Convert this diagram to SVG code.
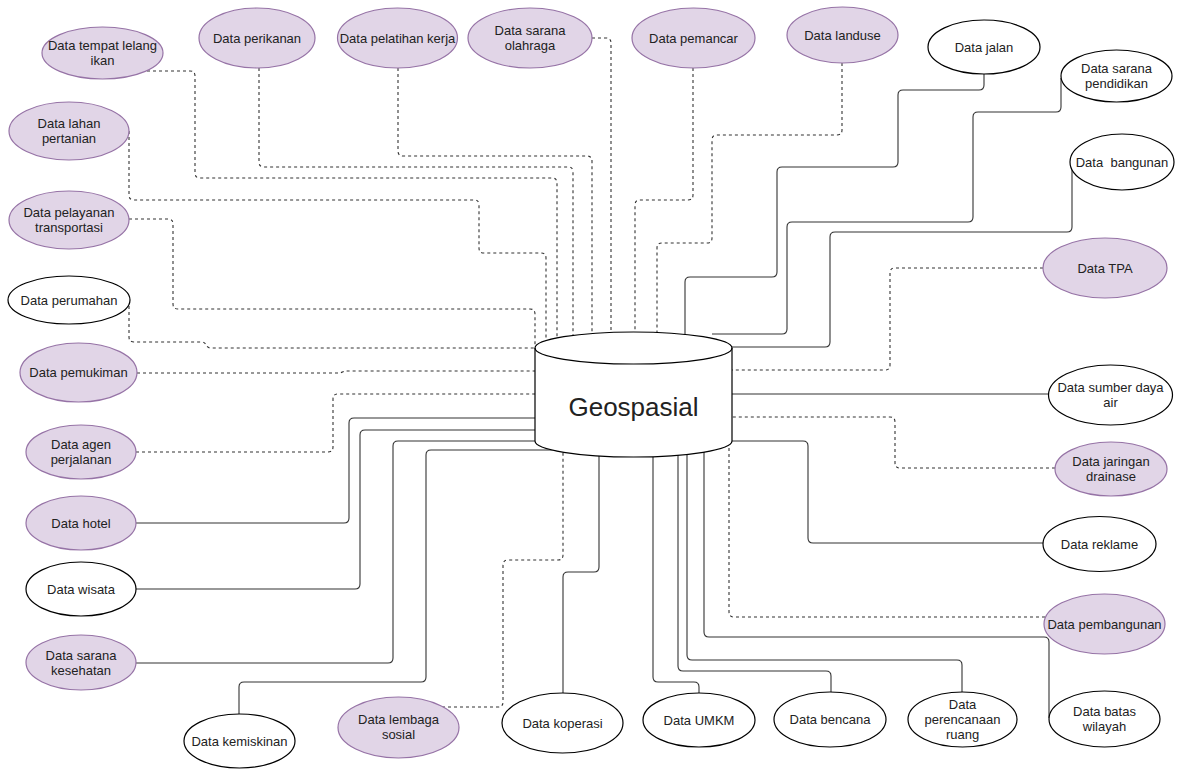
<svg xmlns="http://www.w3.org/2000/svg" width="1180" height="769" viewBox="0 0 1180 769">
<style>
.e{fill:none;stroke:#333;stroke-width:1.1}
.d{stroke-dasharray:3 3}
.p{fill:#e1d5e7;stroke:#9673a6;stroke-width:1.2}
.w{fill:#fff;stroke:#000;stroke-width:1.2}
text{font-family:"Liberation Sans",Arial,sans-serif;font-size:13px;fill:#222;text-anchor:middle;white-space:pre}
.big{font-size:26px}
</style>
<rect width="1180" height="769" fill="#fff"/>
<g id="connectors">
<path class="e d" d="M147,71 L190,71 Q195,71 195,76 L195,173 Q195,178 200,178 L552,178 Q557,178 557,183 L557,345"/>
<path class="e d" d="M259,68 L259,162 Q259,167 264,167 L568,167 Q573,167 573,172 L573,345"/>
<path class="e d" d="M398,68 L398,151 Q398,156 403,156 L587,156 Q592,156 592,161 L592,345"/>
<path class="e d" d="M592,38 L606,38 Q611,38 611,43 L611,345"/>
<path class="e d" d="M693,68 L693,195 Q693,200 688,200 L640,200 Q635,200 635,205 L635,345"/>
<path class="e d" d="M842,63 L842,130 Q842,135 837,135 L717,135 Q712,135 712,140 L712,238 Q712,243 707,243 L662,243 Q657,243 657,248 L657,345"/>
<path class="e d" d="M129,131 L129,195 Q129,200 134,200 L474,200 Q479,200 479,205 L479,248 Q479,253 484,253 L541,253 Q546,253 546,258 L546,345"/>
<path class="e d" d="M129,219 L168,219 Q173,219 173,224 L173,304 Q173,309 178,309 L530,309 Q535,309 535,314 L535,345"/>
<path class="e d" d="M129,300 L129,337 Q129,342 134,342 L202,342 C207,342 205,348 211,348 L545,348"/>
<path class="e d" d="M137,373 L340,373 L345,371 L545,371"/>
<path class="e d" d="M136,452 L328,452 Q333,452 333,447 L333,399 Q333,394 338,394 L545,394"/>
<path class="e" d="M136,523 L344,523 Q349,523 349,518 L349,423 Q349,418 354,418 L545,418"/>
<path class="e" d="M136,589 L355,589 Q360,589 360,584 L360,435 Q360,430 365,430 L545,430"/>
<path class="e" d="M136,663 L388,663 Q393,663 393,658 L393,446 Q393,441 398,441 L545,441"/>
<path class="e" d="M239,714 L239,687 Q239,682 244,682 L421,682 Q426,682 426,677 L426,455 Q426,450 431,450 L565,450"/>
<path class="e d" d="M442,707 L498,707 Q503,707 503,702 L503,565 Q503,560 508,560 L558,560 Q563,560 563,555 L563,445"/>
<path class="e" d="M563,693 L563,577 Q563,572 568,572 L594,572 Q599,572 599,567 L599,445"/>
<path class="e" d="M699,693 L699,687 Q699,682 694,682 L658,682 Q653,682 653,677 L653,445"/>
<path class="e" d="M831,692 L831,676 Q831,671 826,671 L683,671 Q678,671 678,666 L678,445"/>
<path class="e" d="M962,692 L962,665 Q962,660 957,660 L692,660 Q687,660 687,655 L687,445"/>
<path class="e" d="M1049,718 L1049,642 Q1049,637 1044,637 L709,637 Q704,637 704,632 L704,445"/>
<path class="e d" d="M1045,617 L734,617 Q729,617 729,612 L729,445"/>
<path class="e" d="M1043,543 L813,543 Q808,543 808,538 L808,446 Q808,441 803,441 L725,441"/>
<path class="e d" d="M1055,468 L900,468 Q895,468 895,463 L895,422 Q895,417 890,417 L725,417"/>
<path class="e" d="M1048,394 L725,394"/>
<path class="e d" d="M1043,268 L895,268 Q890,268 890,273 L890,365 Q890,370 885,370 L725,370"/>
<path class="e" d="M1072,165 L1072,227 Q1072,232 1067,232 L835,232 Q830,232 830,237 L830,342 Q830,347 825,347 L725,347"/>
<path class="e" d="M1061,78 L1061,107 Q1061,112 1056,112 L978,112 Q973,112 973,117 L973,217 Q973,222 968,222 L792,222 Q787,222 787,227 L787,329 Q787,334 782,334 L712,334"/>
<path class="e" d="M984,73 L984,85 Q984,90 979,90 L903,90 Q898,90 898,95 L898,162 Q898,167 893,167 L782,167 Q777,167 777,172 L777,272 Q777,277 772,277 L690,277 Q685,277 685,282 L685,345"/>
</g>
<g id="geospasial">
<path d="M535,348 A98.5,16 0 0 1 732,348 L732,441 A98.5,16 0 0 1 535,441 Z" fill="#fff" stroke="#000" stroke-width="1.2"/>
<path d="M535,348 A98.5,16 0 0 0 732,348" fill="none" stroke="#000" stroke-width="1.2"/>
<text class="big" x="633.5" y="416">Geospasial</text>
</g>
<g id="n-lelang"><ellipse class="p" cx="102.5" cy="53" rx="60.5" ry="26"/><text x="102.5" y="50">Data tempat lelang</text><text x="102.5" y="65">ikan</text></g>
<g id="n-perikanan"><ellipse class="p" cx="257" cy="38" rx="58" ry="30"/><text x="257" y="42.5">Data perikanan</text></g>
<g id="n-pelatihan"><ellipse class="p" cx="397.5" cy="38" rx="60" ry="30"/><text x="397.5" y="42.5">Data pelatihan kerja</text></g>
<g id="n-olahraga"><ellipse class="p" cx="530" cy="38" rx="62" ry="30"/><text x="530" y="35">Data sarana</text><text x="530" y="50">olahraga</text></g>
<g id="n-pemancar"><ellipse class="p" cx="693.5" cy="38" rx="61.5" ry="30"/><text x="693.5" y="42.5">Data pemancar</text></g>
<g id="n-landuse"><ellipse class="p" cx="842.5" cy="35" rx="55.5" ry="28"/><text x="842.5" y="39.5">Data landuse</text></g>
<g id="n-jalan"><ellipse class="w" cx="984" cy="47" rx="56" ry="27"/><text x="984" y="51.5">Data jalan</text></g>
<g id="n-pendidikan"><ellipse class="w" cx="1116.5" cy="76" rx="55.5" ry="26"/><text x="1116.5" y="73">Data sarana</text><text x="1116.5" y="88">pendidikan</text></g>
<g id="n-bangunan"><ellipse class="w" cx="1122" cy="162" rx="52" ry="28"/><text x="1122" y="166.5">Data  bangunan</text></g>
<g id="n-tpa"><ellipse class="p" cx="1105" cy="268" rx="62" ry="30"/><text x="1105" y="272.5">Data TPA</text></g>
<g id="n-air"><ellipse class="w" cx="1110.5" cy="395" rx="62" ry="30"/><text x="1110.5" y="392">Data sumber daya</text><text x="1110.5" y="407">air</text></g>
<g id="n-drainase"><ellipse class="p" cx="1111" cy="469" rx="56" ry="27"/><text x="1111" y="466">Data jaringan</text><text x="1111" y="481">drainase</text></g>
<g id="n-reklame"><ellipse class="w" cx="1099.5" cy="544" rx="56.5" ry="27.5"/><text x="1099.5" y="548.5">Data reklame</text></g>
<g id="n-pembangunan"><ellipse class="p" cx="1104.5" cy="624" rx="60.5" ry="30"/><text x="1104.5" y="628.5">Data pembangunan</text></g>
<g id="n-batas"><ellipse class="w" cx="1104.5" cy="719" rx="55.5" ry="28"/><text x="1104.5" y="716">Data batas</text><text x="1104.5" y="731">wilayah</text></g>
<g id="n-perencanaan"><ellipse class="w" cx="962.5" cy="719.5" rx="54.5" ry="27.5"/><text x="962.5" y="708.5">Data</text><text x="962.5" y="723.5">perencanaan</text><text x="962.5" y="738.5">ruang</text></g>
<g id="n-bencana"><ellipse class="w" cx="830" cy="719.5" rx="56" ry="27.5"/><text x="830" y="724">Data bencana</text></g>
<g id="n-umkm"><ellipse class="w" cx="699" cy="720" rx="56" ry="27"/><text x="699" y="724.5">Data UMKM</text></g>
<g id="n-koperasi"><ellipse class="w" cx="562.5" cy="723" rx="60.5" ry="30"/><text x="562.5" y="727.5">Data koperasi</text></g>
<g id="n-lembaga"><ellipse class="p" cx="398.5" cy="727.5" rx="60.5" ry="30.5"/><text x="398.5" y="724">Data lembaga</text><text x="398.5" y="739">sosial</text></g>
<g id="n-kemiskinan"><ellipse class="w" cx="239.5" cy="741" rx="55.5" ry="27"/><text x="239.5" y="745.5">Data kemiskinan</text></g>
<g id="n-kesehatan"><ellipse class="p" cx="81" cy="662.5" rx="55" ry="27.5"/><text x="81" y="659.5">Data sarana</text><text x="81" y="674.5">kesehatan</text></g>
<g id="n-wisata"><ellipse class="w" cx="81" cy="589" rx="55" ry="27"/><text x="81" y="593.5">Data wisata</text></g>
<g id="n-hotel"><ellipse class="p" cx="81" cy="523" rx="55" ry="27"/><text x="81" y="527.5">Data hotel</text></g>
<g id="n-agen"><ellipse class="p" cx="81" cy="452" rx="55" ry="27"/><text x="81" y="449">Data agen</text><text x="81" y="464">perjalanan</text></g>
<g id="n-pemukiman"><ellipse class="p" cx="78.5" cy="372.5" rx="58.5" ry="29.5"/><text x="78.5" y="377">Data pemukiman</text></g>
<g id="n-perumahan"><ellipse class="w" cx="69" cy="300" rx="61" ry="24"/><text x="69" y="304.5">Data perumahan</text></g>
<g id="n-pelayanan"><ellipse class="p" cx="69" cy="220" rx="60" ry="29"/><text x="69" y="217">Data pelayanan</text><text x="69" y="232">transportasi</text></g>
<g id="n-lahan"><ellipse class="p" cx="69" cy="131" rx="60" ry="29"/><text x="69" y="128">Data lahan</text><text x="69" y="143">pertanian</text></g>
</svg>
